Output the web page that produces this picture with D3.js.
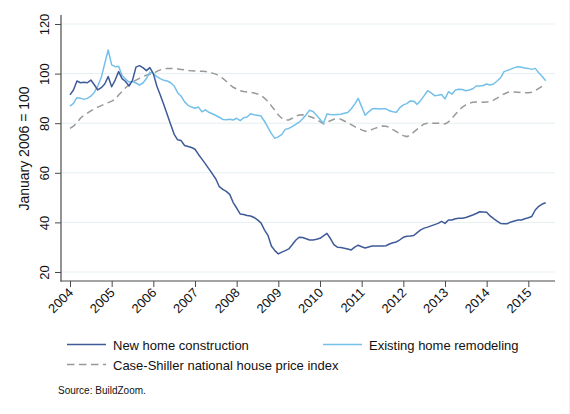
<!DOCTYPE html>
<html><head><meta charset="utf-8">
<script src="https://cdn.jsdelivr.net/npm/d3@7"></script>
<style>body{margin:0;background:#fff} svg{display:block;font-family:"Liberation Sans",Arial,Helvetica,sans-serif}</style>
</head><body><svg id="c" width="570" height="414"></svg>
<script>
const years = [2004,2005,2006,2007,2008,2009,2010,2011,2012,2013,2014,2015];
const yTicks = [20,40,60,80,100,120];
const seriesNames = ["New home construction","Existing home remodeling","Case-Shiller national house price index"];

// monthly values, Jan 2004 .. Jun 2015
const newHome = [
 91.4, 93.4, 97, 96.3, 96.5, 96.3, 97.4, 95.5, 93.4, 94.3, 95.8, 98.8,
 94.7, 97.4, 100.8, 98, 96.8, 95, 97.3, 102.6, 103.2, 102.4, 101.2, 102.4,
 100, 95, 91.4, 87.5, 83.5, 79.5, 75.5, 73.3, 73, 71, 70.6, 70.2,
 69.5, 67.4, 65.5, 63.6, 61.6, 59.6, 57.5, 54.4, 53.3, 52.5, 51.3, 48,
 45.8, 43.4, 43.2, 42.8, 42.6, 42, 41, 39.8, 37, 34.8, 30.5, 28.6,
 27.3, 28, 28.6, 29.3, 31, 32.8, 34, 33.9, 33.4, 32.9, 32.9, 33.2,
 33.6, 34.6, 35.6, 33.5, 31, 30, 29.9, 29.6, 29.3, 28.9, 30, 30.8,
 30.2, 29.7, 30.1, 30.5, 30.5, 30.5, 30.5, 30.6, 31.3, 31.8, 32.1, 33,
 34, 34.4, 34.5, 34.7, 35.9, 37, 37.7, 38.1, 38.6, 39.1, 39.6, 40.4,
 39.6, 41, 41, 41.5, 41.7, 41.7, 42, 42.5, 43, 43.6, 44.3, 44.2,
 44.1, 42.6, 41.5, 40.5, 39.6, 39.5, 39.5, 40.2, 40.6, 41, 41, 41.5,
 41.9, 42.4, 45, 46.5, 47.4, 47.9
];
const remodel = [
 86.9, 88, 90.3, 90.1, 89.6, 90, 90.9, 92.4, 95, 98.4, 104, 109.5,
 103.5, 102.8, 103, 99.2, 97.8, 96.6, 96.8, 96.2, 95.4, 96.2, 98, 100.6,
 100, 98.8, 98, 97.3, 97, 96.3, 95, 92.3, 90.9, 88.6, 87.2, 86.5,
 86, 86.5, 84.6, 85.4, 84.4, 83.8, 83.1, 82.4, 81.5, 81.4, 81.6, 81.3,
 82, 81, 82.2, 82.5, 83.8, 83.4, 83.2, 82.9, 80.8, 78.3, 75.8, 73.9,
 74.5, 75.5, 77.5, 77.9, 78.6, 79.5, 80.4, 81.8, 83.4, 85.2, 84.7, 83.2,
 81.6, 80, 83.7, 83.5, 83.4, 83.5, 83.6, 84, 84.3, 85.8, 87.7, 90,
 86.7, 83.2, 84.6, 85.7, 85.9, 85.7, 85.8, 85.8, 85, 84.6, 84.4, 86.3,
 87.4, 87.9, 89, 88.9, 87.6, 89.2, 91.1, 93.1, 92.2, 91.1, 91.3, 91.6,
 89.8, 92.7, 91.7, 93.4, 93.7, 93.6, 93.1, 93.4, 93.9, 95, 95, 95.2,
 95.8, 95.4, 95.8, 97, 98.3, 100.8, 101.3, 101.8, 102.4, 102.8, 102.6, 102.3,
 102.1, 101.7, 102.1, 100.3, 98.8, 97.1
];
const caseShiller = [
 77.9, 78.8, 80.2, 82, 83.2, 84.1, 85, 85.8, 86.5, 87.1, 87.7, 88.3,
 88.9, 89.6, 91.4, 92.8, 94.3, 95.5, 96.5, 97.4, 98.1, 98.8, 99.3, 99.7,
 100, 100.9, 101.5, 101.9, 102.1, 102.1, 102, 101.9, 101.7, 101.5, 101.3, 101.1,
 101, 101, 100.9, 100.8, 100.6, 100.2, 99.8, 99.1, 98.1, 96.9, 95.6, 94.5,
 93.8, 93.1, 92.8, 92.6, 92.4, 92.2, 91.8, 91.2, 90.1, 88.8, 87, 85.2,
 83.3, 82, 81.3, 81.3, 82, 82.9, 83.3, 83.4, 83.2, 82.7, 82.2, 81.6,
 80.6, 79.7, 80.4, 81, 81.6, 81.8, 81.6, 80.9, 80.2, 79.4, 78.6, 77.9,
 77.3, 76.8, 76.8, 77.5, 78, 78.5, 78.9, 78.8, 78.3, 77.4, 76.6, 75.8,
 75, 74.6, 75.2, 76.4, 77.6, 78.8, 79.7, 80, 80, 80, 80, 79.8,
 79.7, 80.5, 82, 83.6, 85.1, 86.5, 87.4, 88.1, 88.4, 88.5, 88.5, 88.4,
 88.5, 88.7, 89.3, 90.1, 91, 91.8, 92.4, 92.7, 92.6, 92.5, 92.4, 92.3,
 92.3, 92.5, 93.1, 94, 94.9, 95.8
];

const colors = ["#3e5b98", "#74c0ea", "#999999"];
const svg = d3.select("#c");
const months = d3.range(newHome.length);
const x = d3.scaleLinear().domain([0, 132]).range([70, 528.33]);
const y = d3.scaleLinear().domain([20, 120]).range([272, 24]);
const axisColor = "#4a4a4a";

// faint right border of the image
svg.append("line").attr("x1", 569.5).attr("x2", 569.5).attr("y1", 0).attr("y2", 414)
  .attr("stroke", "#f1f1f1");

// gridlines
svg.append("g").selectAll("line").data(yTicks).join("line")
  .attr("x1", 61).attr("x2", 555)
  .attr("y1", d => y(d)).attr("y2", d => y(d))
  .attr("stroke", "#e6eff2").attr("stroke-width", 1);

// y axis
const gy = svg.append("g").attr("transform", "translate(61,0)")
  .call(d3.axisLeft(y).tickValues(yTicks).tickSize(6).tickPadding(0));
gy.select(".domain").remove();
gy.selectAll(".tick line").attr("stroke", axisColor);
gy.selectAll(".tick text").attr("x", null).attr("dy", null)
  .attr("transform", "translate(-12.5,0) rotate(-90)")
  .attr("text-anchor", "middle").attr("fill", "#111")
  .style("font-size", "13px").style("font-family", '"Liberation Sans",Arial,sans-serif');
svg.append("line").attr("x1", 61).attr("x2", 61).attr("y1", 15).attr("y2", 281.5)
  .attr("stroke", axisColor).attr("stroke-width", 1.2);

// x axis
const gx = svg.append("g").attr("transform", "translate(0,281)")
  .call(d3.axisBottom(x).tickValues(d3.range(0, 133, 12)).tickFormat((d, i) => years[i]).tickSize(6));
gx.select(".domain").remove();
gx.selectAll(".tick line").attr("stroke", axisColor);
gx.selectAll(".tick text").attr("y", null).attr("dy", null)
  .attr("transform", "translate(3.5,12.5) rotate(-45)")
  .attr("text-anchor", "end").attr("fill", "#111")
  .style("font-size", "13px").style("font-family", '"Liberation Sans",Arial,sans-serif');
svg.append("line").attr("x1", 60.4).attr("x2", 555).attr("y1", 281).attr("y2", 281)
  .attr("stroke", axisColor).attr("stroke-width", 1.2);

// y title
svg.append("text").attr("transform", "translate(29,148.5) rotate(-90)")
  .attr("text-anchor", "middle").attr("fill", "#111").style("font-size", "14px")
  .text("January 2006 = 100");

// lines
const line = vals => d3.line().x((d, i) => x(months[i])).y(d => y(d))(vals);
svg.append("path").attr("d", line(caseShiller)).attr("fill", "none")
  .attr("stroke", colors[2]).attr("stroke-width", 1.5).attr("stroke-dasharray", "7,4.5");
svg.append("path").attr("d", line(remodel)).attr("fill", "none")
  .attr("stroke", colors[1]).attr("stroke-width", 1.5).attr("stroke-linejoin", "round");
svg.append("path").attr("d", line(newHome)).attr("fill", "none")
  .attr("stroke", colors[0]).attr("stroke-width", 1.5).attr("stroke-linejoin", "round");

// legend
const legend = [
  {x: 67, y: 344.5, name: seriesNames[0], c: colors[0], dash: null},
  {x: 323, y: 344.5, name: seriesNames[1], c: colors[1], dash: null},
  {x: 67, y: 364.5, name: seriesNames[2], c: colors[2], dash: "7.5,4.5"}
];
const lg = svg.append("g").selectAll("g").data(legend).join("g");
lg.append("line").attr("x1", d => d.x).attr("x2", d => d.x + 39)
  .attr("y1", d => d.y).attr("y2", d => d.y)
  .attr("stroke", d => d.c).attr("stroke-width", 1.4)
  .attr("stroke-dasharray", d => d.dash);
lg.append("text").attr("x", d => d.x + 46).attr("y", d => d.y + 5.5)
  .attr("fill", "#111").style("font-size", "13px").text(d => d.name);

svg.append("text").attr("x", 58).attr("y", 394).attr("fill", "#111")
  .style("font-size", "10px").text("Source: BuildZoom.");
</script></body></html>
